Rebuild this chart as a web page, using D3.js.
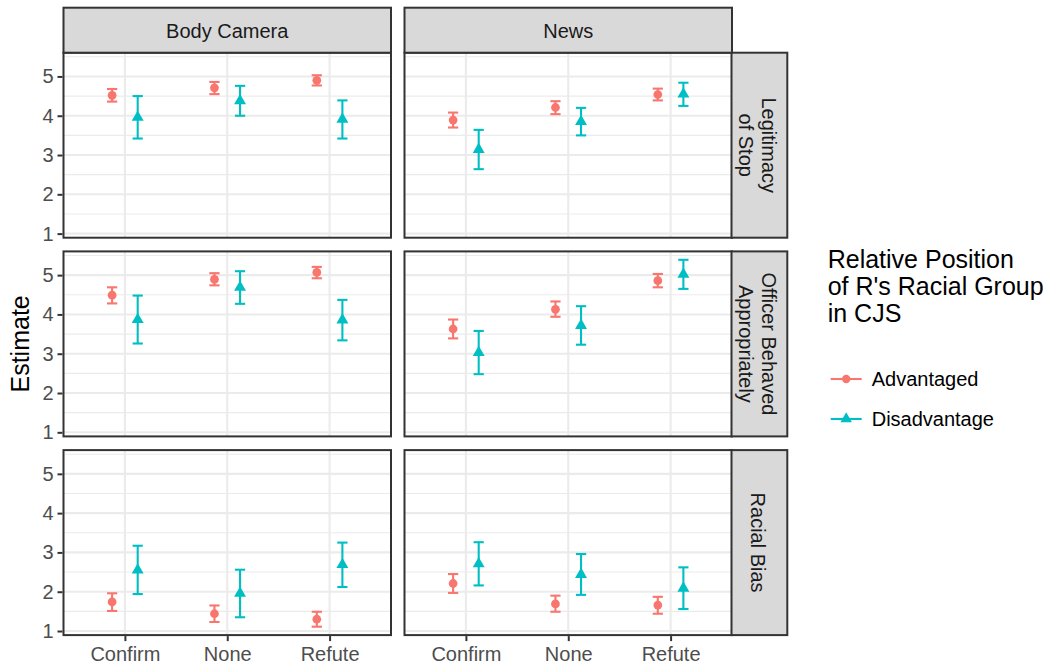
<!DOCTYPE html>
<html>
<head>
<meta charset="utf-8">
<script src="https://cdn.jsdelivr.net/npm/d3@7"></script>
<style>
  html, body { margin: 0; padding: 0; background: #ffffff; }
  svg { display: block; font-family: "Liberation Sans", Arial, Helvetica, sans-serif; }
</style>
</head>
<body>
<svg id="chart" width="1047" height="668"></svg>
<script>
// ---- data -------------------------------------------------------------
const conditions = ["Confirm", "None", "Refute"];
const sources = ["Body Camera", "News"];
const outcomes = [["Legitimacy", "of Stop"], ["Officer Behaved", "Appropriately"], ["Racial Bias"]];
const groups = ["Advantaged", "Disadvantage"];
const yTicks = [1, 2, 3, 4, 5];

// Each array runs: Body Camera/Advantaged (Confirm, None, Refute),
// Body Camera/Disadvantage, News/Advantaged, News/Disadvantage.
const legitimacyEst = [4.52, 4.71, 4.90, 3.96, 4.38, 3.91, 3.89, 4.21, 4.54, 3.14, 3.85, 4.55];
const legitimacyLo  = [4.36, 4.55, 4.77, 3.42, 4.00, 3.42, 3.70, 4.04, 4.39, 2.64, 3.50, 4.25];
const legitimacyHi  = [4.68, 4.86, 5.03, 4.50, 4.76, 4.39, 4.08, 4.37, 4.69, 3.64, 4.20, 4.84];

const behavedEst = [4.49, 4.89, 5.07, 3.87, 4.69, 3.86, 3.63, 4.13, 4.86, 3.03, 3.72, 5.02];
const behavedLo  = [4.28, 4.74, 4.92, 3.26, 4.27, 3.34, 3.39, 3.94, 4.69, 2.48, 3.23, 4.65];
const behavedHi  = [4.69, 5.05, 5.21, 4.48, 5.10, 4.37, 3.87, 4.33, 5.03, 3.58, 4.21, 5.39];

const biasEst = [1.74, 1.44, 1.30, 2.55, 1.96, 2.69, 2.21, 1.69, 1.66, 2.71, 2.44, 2.09];
const biasLo  = [1.51, 1.23, 1.11, 1.94, 1.35, 2.12, 1.97, 1.49, 1.44, 2.16, 1.92, 1.56];
const biasHi  = [1.96, 1.65, 1.49, 3.17, 2.56, 3.25, 2.45, 1.90, 1.87, 3.26, 2.96, 2.62];

const outcomeSeries = [
  [legitimacyEst, legitimacyLo, legitimacyHi],
  [behavedEst, behavedLo, behavedHi],
  [biasEst, biasLo, biasHi]
];

// long-format rows built from the arrays above
const rows = [];
outcomeSeries.forEach(([est, lo, hi], r) => {
  sources.forEach((src, s) => {
    groups.forEach((grp, g) => {
      conditions.forEach((cond, c) => {
        const i = s * 6 + g * 3 + c;
        rows.push({ row: r, col: s, group: grp, cond, est: est[i], lo: lo[i], hi: hi[i] });
      });
    });
  });
});

// ---- layout -----------------------------------------------------------
const svg = d3.select("#chart");
const colors = d3.scaleOrdinal().domain(groups).range(["#F8766D", "#00BFC4"]);

const colX = [63.5, 404.5];
const panelW = 327.5;
const rowY = [52.7, 251.4, 450.1];
const panelH = 185;
const stripTop = 7.7;
const stripH = 45;
const rStripX = 731.5, rStripW = 55.8;

const grid = "#EBEBEB", dark = "#333333";

// shared y domain with 5% expansion, like ggplot defaults
const yMin = d3.min(rows, d => d.lo), yMax = d3.max(rows, d => d.hi);
const pad = (yMax - yMin) * 0.05;
const yDomain = [yMin - pad, yMax + pad];

// discrete x: positions 1..3 with 0.6 expansion on each side
const xPos = d3.scalePoint().domain(conditions).range([1, 3]);
const dodge = d3.scaleOrdinal().domain(groups).range([-0.125, 0.125]);
const capHalf = 0.05;

outcomes.forEach((lab, r) => {
  const y = d3.scaleLinear().domain(yDomain).range([rowY[r] + panelH, rowY[r]]);
  sources.forEach((src, s) => {
    const x = d3.scaleLinear().domain([0.4, 3.6]).range([colX[s], colX[s] + panelW]);
    const g = svg.append("g");

    g.append("rect").attr("x", colX[s]).attr("y", rowY[r]).attr("width", panelW).attr("height", panelH)
      .attr("fill", "#ffffff");

    // minor grid
    const minors = d3.range(Math.ceil(yDomain[0] * 2) / 2, yDomain[1], 0.5).filter(v => v % 1 !== 0);
    g.selectAll(".ymin").data(minors).join("line")
      .attr("x1", colX[s]).attr("x2", colX[s] + panelW)
      .attr("y1", d => y(d)).attr("y2", d => y(d))
      .attr("stroke", grid).attr("stroke-width", 1.1);
    // major grid
    g.selectAll(".ymaj").data(yTicks).join("line")
      .attr("x1", colX[s]).attr("x2", colX[s] + panelW)
      .attr("y1", d => y(d)).attr("y2", d => y(d))
      .attr("stroke", grid).attr("stroke-width", 2.1);
    g.selectAll(".xmaj").data(conditions).join("line")
      .attr("x1", d => x(xPos(d))).attr("x2", d => x(xPos(d)))
      .attr("y1", rowY[r]).attr("y2", rowY[r] + panelH)
      .attr("stroke", grid).attr("stroke-width", 2.1);

    // error bars and points
    const data = rows.filter(d => d.row === r && d.col === s);
    const cx = d => x(xPos(d.cond) + dodge(d.group));
    const bars = g.selectAll(".eb").data(data).join("g").attr("stroke", d => colors(d.group))
      .attr("stroke-width", 2.1).attr("fill", "none");
    bars.append("line").attr("x1", cx).attr("x2", cx).attr("y1", d => y(d.lo)).attr("y2", d => y(d.hi));
    bars.append("line").attr("x1", d => x(xPos(d.cond) + dodge(d.group) - capHalf))
      .attr("x2", d => x(xPos(d.cond) + dodge(d.group) + capHalf))
      .attr("y1", d => y(d.lo)).attr("y2", d => y(d.lo));
    bars.append("line").attr("x1", d => x(xPos(d.cond) + dodge(d.group) - capHalf))
      .attr("x2", d => x(xPos(d.cond) + dodge(d.group) + capHalf))
      .attr("y1", d => y(d.hi)).attr("y2", d => y(d.hi));

    g.selectAll(".pt").data(data).join("path")
      .attr("transform", d => `translate(${cx(d)},${y(d.est)})`)
      .attr("d", d => d3.symbol().type(d.group === groups[0] ? d3.symbolCircle : d3.symbolTriangle)
        .size(d.group === groups[0] ? 60 : 62)())
      .attr("fill", d => colors(d.group));

    // panel border
    g.append("rect").attr("x", colX[s]).attr("y", rowY[r]).attr("width", panelW).attr("height", panelH)
      .attr("fill", "none").attr("stroke", dark).attr("stroke-width", 2);

    // y axis on first column
    if (s === 0) {
      const ax = g.append("g").attr("transform", `translate(${colX[s] - 1},0)`)
        .call(d3.axisLeft(y).tickValues(yTicks).tickSize(5).tickPadding(4).tickFormat(d3.format("d")));
      ax.select(".domain").remove();
      ax.selectAll(".tick line").attr("stroke", dark).attr("stroke-width", 2);
      ax.selectAll(".tick text").attr("fill", "#4D4D4D").attr("font-size", 20)
        .attr("font-family", "Liberation Sans, Arial, sans-serif");
    }
    // x axis on last row
    if (r === outcomes.length - 1) {
      const ax = g.append("g").attr("transform", `translate(0,${rowY[r] + panelH + 1})`)
        .call(d3.axisBottom(x).tickValues(conditions.map(c => xPos(c))).tickSize(5).tickPadding(6)
          .tickFormat((v, i) => conditions[i]));
      ax.select(".domain").remove();
      ax.selectAll(".tick line").attr("stroke", dark).attr("stroke-width", 2);
      ax.selectAll(".tick text").attr("fill", "#4D4D4D").attr("font-size", 20)
        .attr("font-family", "Liberation Sans, Arial, sans-serif");
    }
  });

  // right strip for the outcome
  const sg = svg.append("g");
  sg.append("rect").attr("x", rStripX).attr("y", rowY[r]).attr("width", rStripW).attr("height", panelH)
    .attr("fill", "#D9D9D9").attr("stroke", dark).attr("stroke-width", 2);
  const scx = rStripX + rStripW / 2 - 1.5, scy = rowY[r] + panelH / 2;
  const lh = 23.4;
  const t = sg.append("text").attr("transform", `translate(${scx},${scy}) rotate(90)`)
    .attr("text-anchor", "middle").attr("font-size", 20).attr("fill", "#1A1A1A");
  lab.forEach((line, i) => {
    const off = (i - (lab.length - 1) / 2) * lh;
    t.append("tspan").attr("x", 0).attr("y", off + 7.2).text(line);
  });
});

// top strips
sources.forEach((src, s) => {
  const sg = svg.append("g");
  sg.append("rect").attr("x", colX[s]).attr("y", stripTop).attr("width", panelW).attr("height", stripH)
    .attr("fill", "#D9D9D9").attr("stroke", dark).attr("stroke-width", 2);
  sg.append("text").attr("x", colX[s] + panelW / 2).attr("y", stripTop + stripH / 2 + 7.4)
    .attr("text-anchor", "middle").attr("font-size", 20).attr("fill", "#1A1A1A").text(src);
});

// y axis title
svg.append("text").attr("transform", `translate(29,${(rowY[0] + rowY[2] + panelH) / 2}) rotate(-90)`)
  .attr("text-anchor", "middle").attr("font-size", 25).attr("fill", "#000000").text("Estimate");

// legend
const legendTitle = ["Relative Position", "of R's Racial Group", "in CJS"];
const lg = svg.append("g");
lg.append("text").attr("font-size", 25).attr("fill", "#000000")
  .selectAll("tspan").data(legendTitle).join("tspan")
  .attr("x", 827.7).attr("y", (d, i) => 268 + i * 26.9).text(d => d);

const keyY = [379, 419];
groups.forEach((grp, i) => {
  const k = lg.append("g");
  k.append("line").attr("x1", 830.7).attr("x2", 861.7).attr("y1", keyY[i]).attr("y2", keyY[i])
    .attr("stroke", colors(grp)).attr("stroke-width", 2.1);
  k.append("path").attr("transform", `translate(846.2,${keyY[i]})`)
    .attr("d", d3.symbol().type(i === 0 ? d3.symbolCircle : d3.symbolTriangle).size(i === 0 ? 55 : 58)())
    .attr("fill", colors(grp));
  k.append("text").attr("x", 871.7).attr("y", keyY[i] + 7.3).attr("font-size", 20).attr("fill", "#000000")
    .text(grp);
});
</script>
</body>
</html>
